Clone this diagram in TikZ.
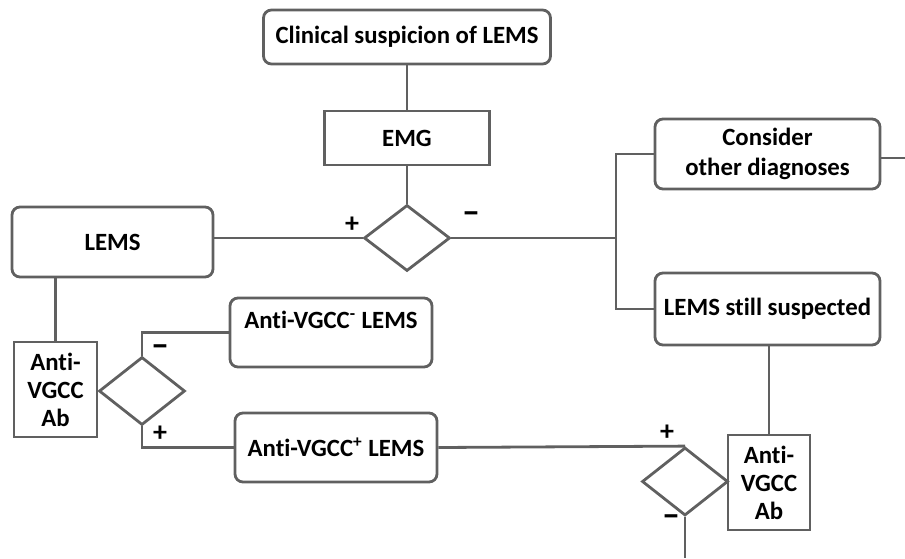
\documentclass[tikz,border=0pt]{standalone}
\usepackage{fontspec}
\setmainfont{Carlito}[Ligatures={NoCommon}]
\usepackage{tikz}
\usetikzlibrary{arrows.meta,positioning,calc,shapes.geometric}
\definecolor{edgegray}{HTML}{606060}

\begin{document}
\begin{tikzpicture}[x=0.5pt, y=-0.5pt,
  roundbox/.style={draw=edgegray, line width=1.4pt, rounded corners=4pt, align=center, inner sep=0pt, font=\fontsize{12.4}{15}\selectfont\bfseries},
  testbox/.style={draw=edgegray, line width=1.4pt, align=center, inner sep=0pt, font=\fontsize{12.4}{14}\selectfont\bfseries},
  decision/.style={draw=edgegray, line width=1.4pt, diamond, inner sep=0pt, minimum width=43pt, minimum height=34pt},
  sign/.style={inner sep=0pt, font=\fontsize{14}{14}\selectfont\bfseries},
  minussign/.style={inner sep=0pt, font=\fontsize{18}{18}\selectfont\bfseries},
  link/.style={draw=edgegray, line width=1.4pt}
]
  \useasboundingbox (0,0) rectangle (905,558);

  \node[roundbox, minimum width=143.5pt, minimum height=27pt] (clin) at (407,37) {Clinical suspicion of LEMS};
  \node[testbox, minimum width=82.5pt, minimum height=27pt] (emg) at (407,138) {EMG};
  \node[decision, minimum height=33pt] (d1) at (407,238) {};
  \node[roundbox, minimum width=100.5pt, minimum height=35pt] (lems) at (112.5,242) {LEMS};
  \node[testbox, minimum width=41.5pt, minimum height=47.5pt] (ab1) at (55.5,389.5) {Anti-\\VGCC\\Ab};
  \node[decision] (d2) at (142,391) {};
  \node[roundbox, minimum width=101pt, minimum height=34.5pt] (neg) at (331,332.5) {Anti-VGCC\textsuperscript{-} LEMS\\[-2pt]};
  \node[roundbox, minimum width=101pt, minimum height=34.5pt] (pos) at (336,447.5) {Anti-VGCC\textsuperscript{+} LEMS};
  \node[roundbox, minimum width=112.5pt, minimum height=35pt] (other) at (767.5,154) {Consider\\other diagnoses};
  \node[roundbox, minimum width=112.5pt, minimum height=36pt] (still) at (767.5,309) {LEMS still suspected};
  \node[decision] (d3) at (685,481.5) {};
  \node[testbox, minimum width=41pt, minimum height=47.5pt] (ab2) at (769,482.5) {Anti-\\VGCC\\Ab};

  \coordinate (br) at (616,238);
  \coordinate (out1) at (905,158);
  \coordinate (out2) at (685,558);

  % signs
  \node[sign] (p1) at (352,225) {+};
  \node[minussign] (m1) at (471,218) {\textendash};
  \node[minussign] (m2) at (160,351) {\textendash};
  \node[sign] (p2) at (160,434) {+};
  \node[sign] (p3) at (667,433) {+};
  \node[minussign] (m3) at (671,521) {\textendash};

  \draw[link] (clin) -- (emg);
  \draw[link] (emg) -- (d1);
  \draw[link] (d1.west) -- (d1.west -| lems.east);
  \draw[link] (d1.east) -- (br);
  \draw[link] (other.west) -| (br) |- (still.west);
  \draw[link] (other.east |- out1) -- (out1);
  \draw[link] (ab1.north) -- (ab1.north |- lems.south);
  \draw[link] (d2.north) |- (neg.west);
  \draw[link] (d2.south) |- (pos.west);
  \draw[link] (pos.east) -- (d3.north);
  \draw[link] (still.south -| ab2.north) -- (ab2.north);
  \draw[link] (d3.south) -- (out2);
\end{tikzpicture}
\end{document}
